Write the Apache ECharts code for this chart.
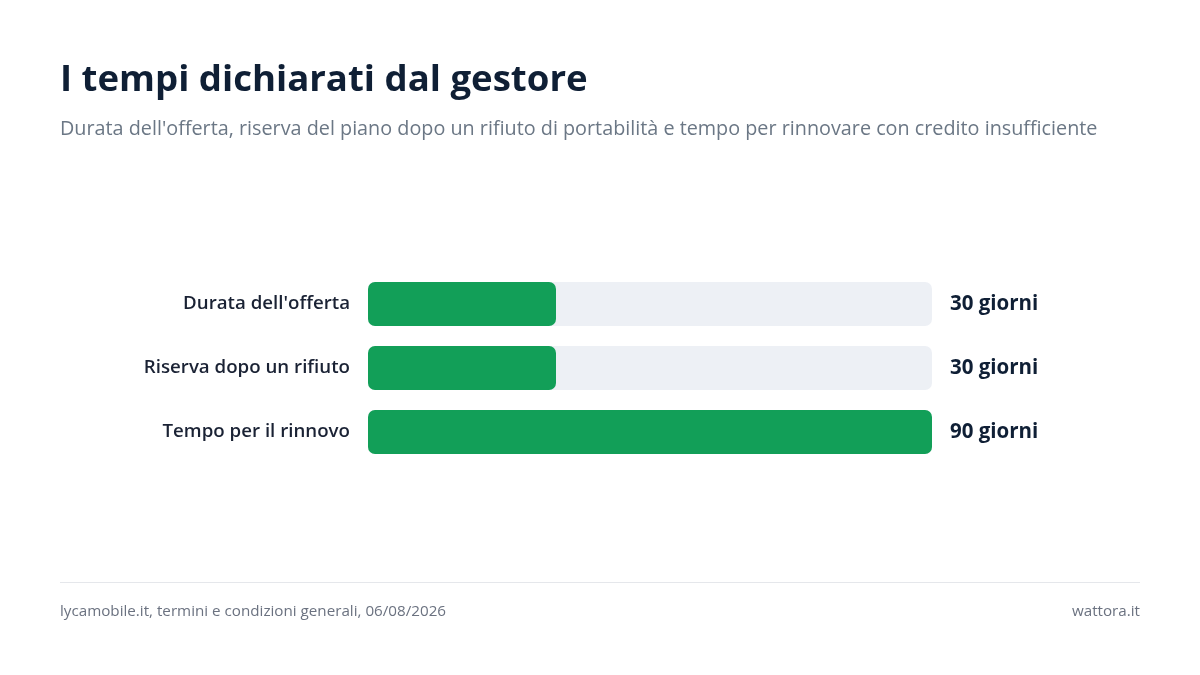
<!DOCTYPE html>
<html><head><meta charset="utf-8">
<script src="https://cdn.jsdelivr.net/npm/echarts@6/dist/echarts.min.js"></script>
<style>html,body{margin:0;padding:0;background:#fff}#c{width:1200px;height:675px}</style>
</head><body><div id="c"></div>
<script>
const categories = ["Durata dell'offerta", "Riserva dopo un rifiuto", "Tempo per il rinnovo"];
const values = [30, 30, 90];
const unit = "giorni";
const axisMax = 90;

const FONT = "'Open Sans', sans-serif";
const chart = echarts.init(document.getElementById('c'), null, {renderer: 'canvas'});
chart.setOption({
  backgroundColor: '#ffffff',
  animation: false,
  title: [
    {text: 'I tempi dichiarati dal gestore', left: 60, top: 62, padding: 0,
     textStyle: {fontFamily: FONT, fontSize: 36.6, fontWeight: 700, color: '#0f1f35'}},
    {text: "Durata dell'offerta, riserva del piano dopo un rifiuto di portabilità e tempo per rinnovare con credito insufficiente",
     left: 60, top: 119, padding: 0, textStyle: {fontFamily: FONT, fontSize: 19.8, fontWeight: 400, color: '#6b7785'}},
    {text: 'lycamobile.it, termini e condizioni generali, 06/08/2026', left: 60, top: 604, padding: 0,
     textStyle: {fontFamily: FONT, fontSize: 15.2, fontWeight: 400, color: '#6b7280'}},
    {text: 'wattora.it', right: 60, top: 604, padding: 0,
     textStyle: {fontFamily: FONT, fontSize: 15.2, fontWeight: 400, color: '#6b7280'}}
  ],
  graphic: [{type: 'line', shape: {x1: 60, y1: 582.5, x2: 1140, y2: 582.5},
             style: {stroke: '#e5e7eb', lineWidth: 1}}],
  grid: {left: 368, right: 268, top: 272, bottom: 211},
  xAxis: {type: 'value', min: 0, max: axisMax, show: false},
  yAxis: [
    {type: 'category', data: categories, inverse: true,
     axisLine: {show: false}, axisTick: {show: false},
     axisLabel: {margin: 18, padding: [3, 0, 0, 0], fontFamily: FONT, fontSize: 18.7, fontWeight: 600, color: '#1a2234'}},
    {type: 'category', data: values.map(v => v + ' ' + unit), inverse: true, position: 'right',
     axisLine: {show: false}, axisTick: {show: false},
     axisLabel: {margin: 18, padding: [3, 0, 0, 0], align: 'left', fontFamily: FONT, fontSize: 20.5, fontWeight: 700, color: '#0f1f35'}}
  ],
  series: [{
    type: 'bar', data: values, barWidth: 44, yAxisIndex: 0,
    showBackground: true,
    backgroundStyle: {color: '#edf0f5', borderRadius: 7},
    itemStyle: {color: '#129f58', borderRadius: 7}
  }]
});
</script></body></html>
